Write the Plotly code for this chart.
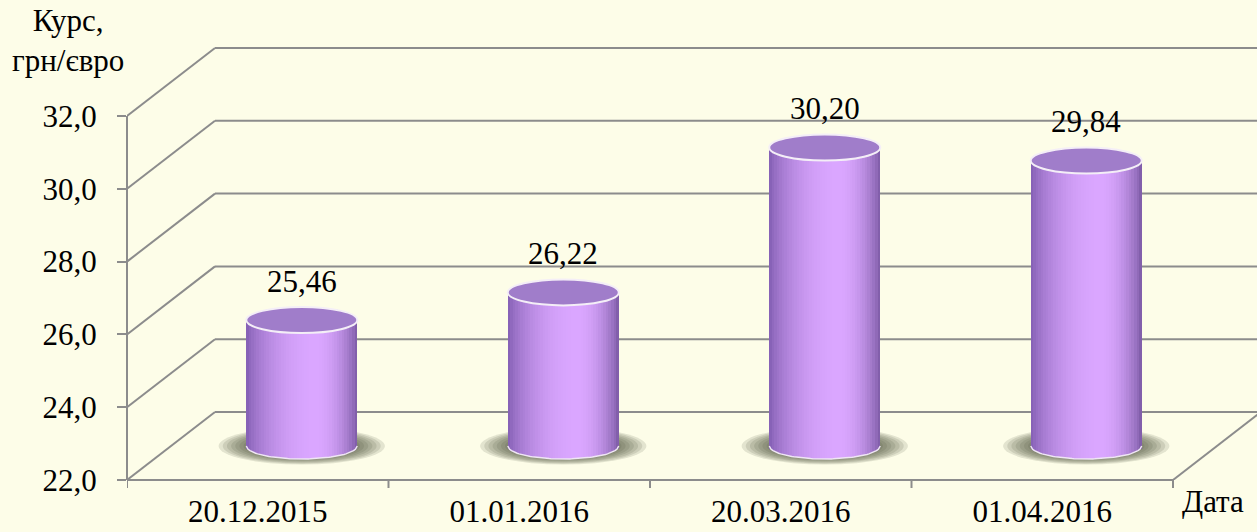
import numpy as np
import plotly.graph_objects as go

# ---------------- data ----------------
dates = ["20.12.2015", "01.01.2016", "20.03.2016", "01.04.2016"]
rates = [25.46, 26.22, 30.20, 29.84]
y_ticks = [22, 24, 26, 28, 30, 32]
y_title = "Курс,<br>грн/євро"
x_title = "Дата"

# ---------------- geometry / style ----------------
W, H = 1257, 532
ML, MR, MT, MB = 127, 0, 34, 52
PW, PH = W - ML - MR, H - MT - MB
CAT_PX = 261.5          # pixels per category band
Y_PX = 36.4             # pixels per value unit
X0 = -0.5
XMAX = X0 + PW / CAT_PX
Y0 = y_ticks[0]
YMAX = Y0 + PH / Y_PX
DX = 88 / CAT_PX        # depth offset (x) of back wall
DY = 68 / Y_PX          # depth offset (y) of back wall
XS, YS = DX / 2, DY / 2  # cylinder axis sits at mid depth
HW = 55.5 / CAT_PX      # cylinder half width
HH = 13 / Y_PX          # ellipse half height

BG = "#FDFDE8"
GRID = "#8C8C8C"
FONT = "Liberation Serif"
FS = 31

def px_x(px):
    return (px - ML) / PW

def px_y(py):
    return (H - MB - py) / PH

fig = go.Figure()
shapes = []

# back wall gridlines + depth diagonals
for v in y_ticks:
    shapes.append(dict(type="line", xref="x", yref="y", x0=X0, y0=v, x1=X0 + DX, y1=v + DY,
                       line=dict(color=GRID, width=2), layer="below"))
    shapes.append(dict(type="line", xref="x", yref="y", x0=X0 + DX, y0=v + DY, x1=XMAX + 1, y1=v + DY,
                       line=dict(color=GRID, width=2), layer="below"))
# right floor diagonal
xr = X0 + len(dates)
shapes.append(dict(type="line", xref="x", yref="y", x0=xr, y0=Y0, x1=xr + DX, y1=Y0 + DY,
                   line=dict(color=GRID, width=2), layer="below"))
# front value axis line
shapes.append(dict(type="line", xref="paper", yref="y", x0=0, x1=0, y0=Y0, y1=y_ticks[-1],
                   line=dict(color=GRID, width=2)))
# front category axis line
shapes.append(dict(type="line", xref="x", yref="paper", x0=X0, x1=xr, y0=0, y1=0,
                   line=dict(color=GRID, width=2)))
# category boundary ticks
for k in range(len(dates) + 1):
    xb = X0 + k
    shapes.append(dict(type="line", xref="x", yref="paper", x0=xb, x1=xb, y0=0, y1=-8 / PH,
                       line=dict(color=GRID, width=2)))

# soft shadows under cylinders
for i, v in enumerate(rates):
    xc = i + XS
    yc = Y0 + YS
    n = 10
    for k in range(n):
        s = 1.0 - 0.45 * k / (n - 1)
        shapes.append(dict(type="circle", xref="x", yref="y",
                           x0=xc - 0.318 * s, x1=xc + 0.318 * s,
                           y0=yc - 0.51 * s, y1=yc + 0.51 * s,
                           fillcolor="rgb(70,76,55)", opacity=0.14, line=dict(width=0),
                           layer="below"))

# cylinder bodies as shaded vertical strips
N = 44
dark_l = np.array([128, 92, 176])
dark_r = np.array([118, 86, 160])
light = np.array([218, 166, 255])
up = 0.25
edges = np.linspace(-1, 1, N + 1)
us = (edges[:-1] + edges[1:]) / 2
sw = 2 * HW / N
for u in us:
    if u < up:
        w = np.cos(np.pi / 2 * (up - u) / (1 + up))
        dark = dark_l
    else:
        w = np.cos(np.pi / 2 * (u - up) / (1 - up))
        dark = dark_r
    w = w ** 0.7
    c = dark + (light - dark) * w
    col = "rgb(%d,%d,%d)" % tuple(int(round(t)) for t in c)
    xs = [i + XS + u * HW for i in range(len(rates))]
    bases = [Y0 + YS - HH * np.sqrt(max(0.0, 1 - u * u)) for _ in rates]
    tops = [v + YS for v in rates]
    fig.add_trace(go.Bar(x=xs, y=[t - b for t, b in zip(tops, bases)], base=bases,
                         width=sw * 1.15, marker=dict(color=col, line=dict(width=0)),
                         hoverinfo="skip", showlegend=False))

# bottom rim highlight
uu = np.linspace(-1, 1, 60)
for i, v in enumerate(rates):
    fig.add_trace(go.Scatter(x=i + XS + uu * HW, y=Y0 + YS - HH * np.sqrt(1 - uu ** 2),
                             mode="lines", line=dict(color="#EFE6F4", width=1.5),
                             hoverinfo="skip", showlegend=False))

# top ellipses
for i, v in enumerate(rates):
    xc = i + XS
    yt = v + YS
    shapes.append(dict(type="circle", xref="x", yref="y", x0=xc - HW, x1=xc + HW,
                       y0=yt - HH, y1=yt + HH, fillcolor="#A07DCA",
                       line=dict(color="#F4EEF7", width=2), layer="above"))

annotations = []
for i, v in enumerate(rates):
    annotations.append(dict(x=i + XS, y=v + YS, xref="x", yref="y",
                            text=("%.2f" % v).replace(".", ","), showarrow=False,
                            yshift=39, font=dict(family=FONT, size=FS, color="black")))
annotations.append(dict(x=px_x(68), y=px_y(40), xref="paper", yref="paper", text=y_title,
                        showarrow=False, xanchor="center", yanchor="middle",
                        font=dict(family=FONT, size=FS, color="black")))
annotations.append(dict(x=px_x(1213), y=px_y(502), xref="paper", yref="paper", text=x_title,
                        showarrow=False, xanchor="center", yanchor="middle",
                        font=dict(family=FONT, size=FS, color="black")))

fig.update_layout(
    width=W, height=H,
    margin=dict(l=ML, r=MR, t=MT, b=MB, pad=0, autoexpand=False),
    paper_bgcolor=BG, plot_bgcolor=BG,
    barmode="overlay", bargap=0,
    separators=", ",
    showlegend=False,
    shapes=shapes,
    annotations=annotations,
    font=dict(family=FONT, size=FS, color="black"),
    xaxis=dict(range=[X0, XMAX], tickmode="array", tickvals=list(range(len(dates))),
               ticktext=dates, ticks="", showgrid=False, zeroline=False, showline=False,
               ticklabelstandoff=10, fixedrange=True, automargin=False,
               tickfont=dict(family=FONT, size=FS, color="black")),
    yaxis=dict(range=[Y0, YMAX], tickmode="array", tickvals=y_ticks, tickformat=".1f",
               ticks="outside", ticklen=9, tickwidth=2, tickcolor=GRID,
               showgrid=False, zeroline=False, showline=False, ticklabelstandoff=14,
               fixedrange=True, automargin=False,
               tickfont=dict(family=FONT, size=FS, color="black")),
)

css = ".main-svg text { font-family: 'Liberation Serif', 'Times New Roman', serif !important; }"
fig.write_html("out.html", config={"displayModeBar": False},
               post_script=("var st=document.createElement('style');st.textContent=\"" + css + "\";"
                            "document.head.appendChild(st);"
                            "document.body.style.margin='0px';document.body.style.padding='0px';"
                            "document.body.style.overflow='hidden';"))
